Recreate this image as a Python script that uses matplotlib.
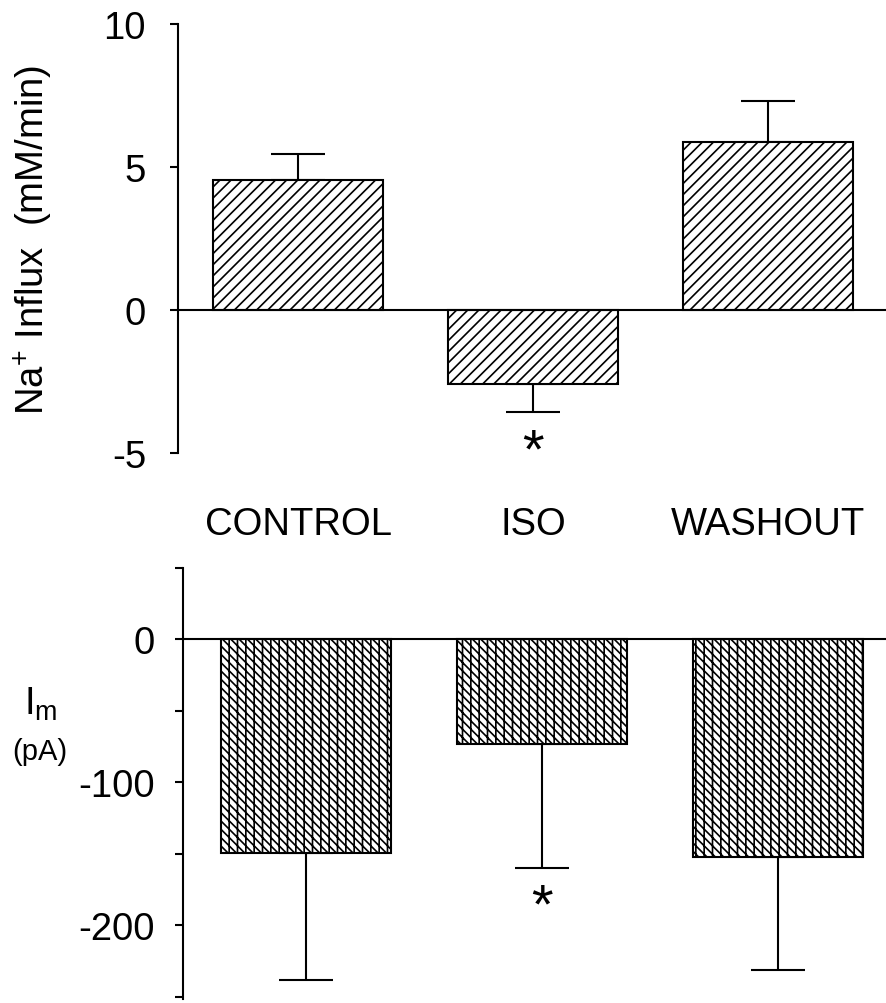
import matplotlib
matplotlib.use("Agg")
import matplotlib.pyplot as plt
from matplotlib.ticker import FixedLocator, NullFormatter
from matplotlib.transforms import blended_transform_factory

plt.rcParams['font.family'] = ['Liberation Sans', 'DejaVu Sans']
plt.rcParams['mathtext.fontset'] = 'custom'
plt.rcParams['mathtext.rm'] = 'Liberation Sans'
plt.rcParams['mathtext.it'] = 'Liberation Sans'
plt.rcParams['axes.unicode_minus'] = False
plt.rcParams['hatch.linewidth'] = 1.2

# ---- data ----
categories = ["CONTROL", "ISO", "WASHOUT"]
na_influx = [4.55, -2.57, 5.86]          # mM/min
na_influx_err = [0.90, 1.00, 1.45]
im_current = [-149.5, -73.0, -152.5]      # pA
im_current_err = [89.0, 87.0, 79.0]
na_significant = [False, True, False]
im_significant = [False, True, False]
na_ticks = [-5, 0, 5, 10]
im_major_ticks = [-200, -100, 0]
im_minor_ticks = [-250, -150, -50, 50]

W, H = 886, 1004
fig = plt.figure(figsize=(W / 100, H / 100), dpi=100)

FS = 27.5
LW = 1.5
x = list(range(len(categories)))


def one_sided(vals, errs):
    lower = [e if v < 0 else 0 for v, e in zip(vals, errs)]
    upper = [e if v >= 0 else 0 for v, e in zip(vals, errs)]
    return [lower, upper]


# ---- top panel ----
ax1 = fig.add_axes([178 / W, 1 - 454 / H, (W - 178) / W, 429 / H])
ax1.bar(x, na_influx, width=0.72, color='white', edgecolor='black',
        linewidth=LW, hatch='///', zorder=2)
ax1.errorbar(x, na_influx, yerr=one_sided(na_influx, na_influx_err), fmt='none',
             ecolor='black', elinewidth=LW, capsize=19.5, capthick=LW, zorder=1)
ax1.axhline(0, color='black', linewidth=LW, zorder=3)
ax1.set_xlim(-0.511, 2.502)
ax1.set_ylim(-5, 10)
ax1.set_yticks(na_ticks)
ax1.set_yticklabels([str(t) for t in na_ticks])
ax1.set_xticks([])
for s in ['top', 'right', 'bottom']:
    ax1.spines[s].set_visible(False)
ax1.spines['left'].set_linewidth(LW)
ax1.tick_params(axis='y', direction='out', length=6, width=LW,
                labelsize=FS, pad=17)
ax1.set_ylabel('$\\mathregular{Na^{+}}$ Influx  (mM/min)', fontsize=FS)
ax1.yaxis.set_label_coords(-0.174, 0.5)
for xi, v, e, sig in zip(x, na_influx, na_influx_err, na_significant):
    if sig:
        ax1.annotate('*', xy=(xi, v - e if v < 0 else v + e), xytext=(0, -39),
                     textcoords='offset points', ha='center', va='baseline',
                     fontsize=40, annotation_clip=False)

# category labels between the panels
label_tr = blended_transform_factory(ax1.transData, fig.transFigure)
for xi, c in zip(x, categories):
    ax1.text(xi, 1 - 535 / H, c, transform=label_tr,
             ha='center', va='baseline', fontsize=FS)

# ---- bottom panel ----
ax2 = fig.add_axes([183 / W, 1 - 1000 / H, (W - 183) / W, 431 / H])
ax2.bar(x, im_current, width=0.72, color='white', edgecolor='black',
        linewidth=LW, hatch='\\\\\\\\||', zorder=2)
ax2.errorbar(x, im_current, yerr=one_sided(im_current, im_current_err), fmt='none',
             ecolor='black', elinewidth=LW, capsize=19.5, capthick=LW, zorder=1)
ax2.axhline(0, color='black', linewidth=LW, zorder=3)
ax2.set_xlim(-0.521, 2.458)
ax2.set_ylim(-251.5, 50)
ax2.yaxis.set_major_locator(FixedLocator(im_major_ticks))
ax2.set_yticklabels([str(t) for t in im_major_ticks])
ax2.yaxis.set_minor_locator(FixedLocator(im_minor_ticks))
ax2.yaxis.set_minor_formatter(NullFormatter())
ax2.set_xticks([])
for s in ['top', 'right', 'bottom']:
    ax2.spines[s].set_visible(False)
ax2.spines['left'].set_linewidth(LW)
ax2.tick_params(axis='y', which='both', direction='out', length=6, width=LW,
                labelsize=FS, pad=14)
for xi, v, e, sig in zip(x, im_current, im_current_err, im_significant):
    if sig:
        ax2.annotate('*', xy=(xi, v - e if v < 0 else v + e), xytext=(0, -38),
                     textcoords='offset points', ha='center', va='baseline',
                     fontsize=40, annotation_clip=False)

fig.text(41 / W, 1 - 715 / H, '$\\mathregular{I_m}$', ha='center', va='baseline', fontsize=FS)
fig.text(40 / W, 1 - 760 / H, '(pA)', ha='center', va='baseline', fontsize=21)

fig.savefig('out.png', dpi=100)
